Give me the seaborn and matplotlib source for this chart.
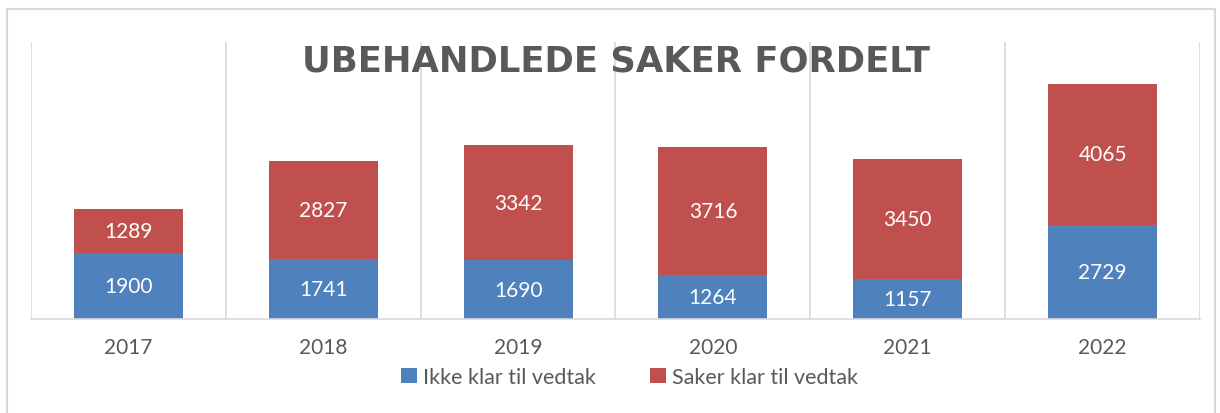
import numpy as np
import matplotlib
matplotlib.use("Agg")
import matplotlib.pyplot as plt
import pandas as pd
import seaborn as sns
from matplotlib.patches import Rectangle
from matplotlib.ticker import FixedLocator

years = ["2017", "2018", "2019", "2020", "2021", "2022"]
ikke_klar = [1900, 1741, 1690, 1264, 1157, 2729]
klar = [1289, 2827, 3342, 3716, 3450, 4065]
series_names = ["Ikke klar til vedtak", "Saker klar til vedtak"]
title = "UBEHANDLEDE SAKER FORDELT"

blue = "#4F81BD"
red = "#C0504D"
grid_gray = "#D9D9D9"
text_gray = "#595959"

sns.set_style("white")
plt.rcParams["font.family"] = ["Lato", "DejaVu Sans"]

df = pd.DataFrame({"year": years, "ikke": ikke_klar, "klar": klar})

fig = plt.figure(figsize=(12.2, 4.14), dpi=100)
ax = fig.add_axes([31 / 1220, 1 - 320 / 414, (1200 - 31) / 1220, (320 - 43) / 414])

sns.barplot(data=df, x="year", y="ikke", color=blue, width=0.56,
            saturation=1, ax=ax, label=series_names[0], linewidth=0)
sns.barplot(data=df, x="year", y="klar", color=red, width=0.56,
            saturation=1, ax=ax, bottom=df["ikke"].values,
            label=series_names[1], linewidth=0)

for cont in ax.containers:
    ax.bar_label(cont, label_type="center", color="white", fontsize=15)

ax.set_ylim(0, 8000)
ax.set_xlim(-0.5, len(years) - 0.5)
ax.set_xlabel("")
ax.set_ylabel("")
ax.set_yticks([])
ax.xaxis.set_minor_locator(FixedLocator(np.arange(len(years) + 1) - 0.5))
ax.grid(True, which="minor", axis="x", color=grid_gray, linewidth=1.2)
ax.tick_params(axis="x", which="both", length=0, pad=13, labelsize=15,
               labelcolor=text_gray)
for s in ["top", "left", "right"]:
    ax.spines[s].set_visible(False)
ax.spines["bottom"].set_color(grid_gray)
ax.spines["bottom"].set_linewidth(1.2)

ax.text(0.5, 0.935, title, transform=ax.transAxes, ha="center", va="center",
        fontsize=25.5, fontweight="bold", color=text_gray,
        family=["DejaVu Sans"])

handles, labels = ax.get_legend_handles_labels()
if ax.get_legend() is not None:
    ax.get_legend().remove()
fig.legend(handles, labels, loc="center", bbox_to_anchor=(0.516, 0.087),
           ncol=2, frameon=False, fontsize=15.5, handlelength=0.75,
           handleheight=0.75, handletextpad=0.3, columnspacing=2.5,
           labelcolor=text_gray)

fig.patches.append(Rectangle((7 / 1220, -0.02), (1215 - 7) / 1220, 0.996,
                             transform=fig.transFigure, fill=False,
                             edgecolor=grid_gray, linewidth=1.5))

fig.savefig("out.png", dpi=100, facecolor="white")
